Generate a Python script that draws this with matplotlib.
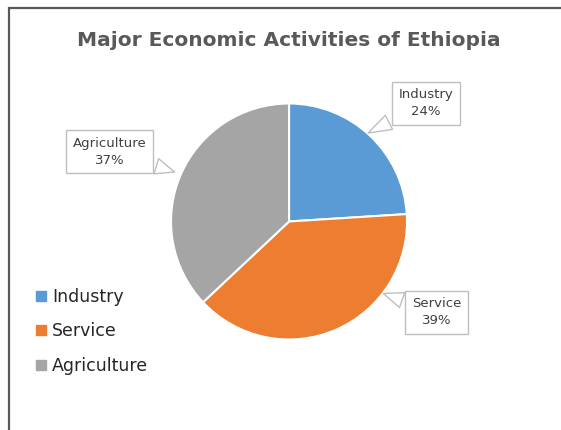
import matplotlib
matplotlib.use('Agg')
import matplotlib.pyplot as plt
from matplotlib.lines import Line2D
from matplotlib.patches import Rectangle

labels = ['Industry', 'Service', 'Agriculture']
shares = [24, 39, 37]
colors = ['#5B9BD5', '#ED7D31', '#A5A5A5']

# label box centres and pointer tips (data coords of the pie axes)
box_xy = [(1.16, 1.00), (1.25, -0.77), (-1.52, 0.59)]
tip_xy = [(0.67, 0.75), (0.80, -0.61), (-0.97, 0.42)]

fig = plt.figure(figsize=(5.61, 4.30), dpi=100)
fig.patches.append(Rectangle((9/561, -0.1), 1.2, 1 - 8/430 + 0.1, transform=fig.transFigure,
                             fill=False, ec='#595959', lw=1.6))

fig.text(289/561, 1 - 40/430, 'Major Economic Activities of Ethiopia', ha='center', va='center',
         fontsize=14.5, fontweight='bold', color='#595959')

ax = fig.add_axes([0.2628, 0.1556, 0.5048, 0.6586])
ax.set_aspect('equal')
ax.pie(shares, colors=colors, startangle=90, counterclock=False,
       wedgeprops=dict(edgecolor='white', linewidth=1.5))
ax.set_xlim(-1.2, 1.2)
ax.set_ylim(-1.2, 1.2)

for lab, v, bxy, txy in zip(labels, shares, box_xy, tip_xy):
    ax.annotate(f'{lab}\n{v}%', xy=txy, xytext=bxy, ha='center', va='center',
                fontsize=9.5, color='#404040', linespacing=1.4,
                bbox=dict(boxstyle='square,pad=0.5', fc='white', ec='#BFBFBF', lw=1),
                arrowprops=dict(arrowstyle='wedge,tail_width=1.2,shrink_factor=0.5',
                                fc='white', ec='#BFBFBF', lw=1, shrinkB=0),
                annotation_clip=False)

handles = [Line2D([], [], marker='s', ls='', color=c, markersize=6.5) for c in colors]
fig.legend(handles, labels, loc='upper left', bbox_to_anchor=(20/561, 1 - 272/430),
           frameon=False, fontsize=12.5, handlelength=0.6, handletextpad=0.35,
           labelspacing=0.95, labelcolor='#262626')

fig.savefig('out.png', dpi=100)
